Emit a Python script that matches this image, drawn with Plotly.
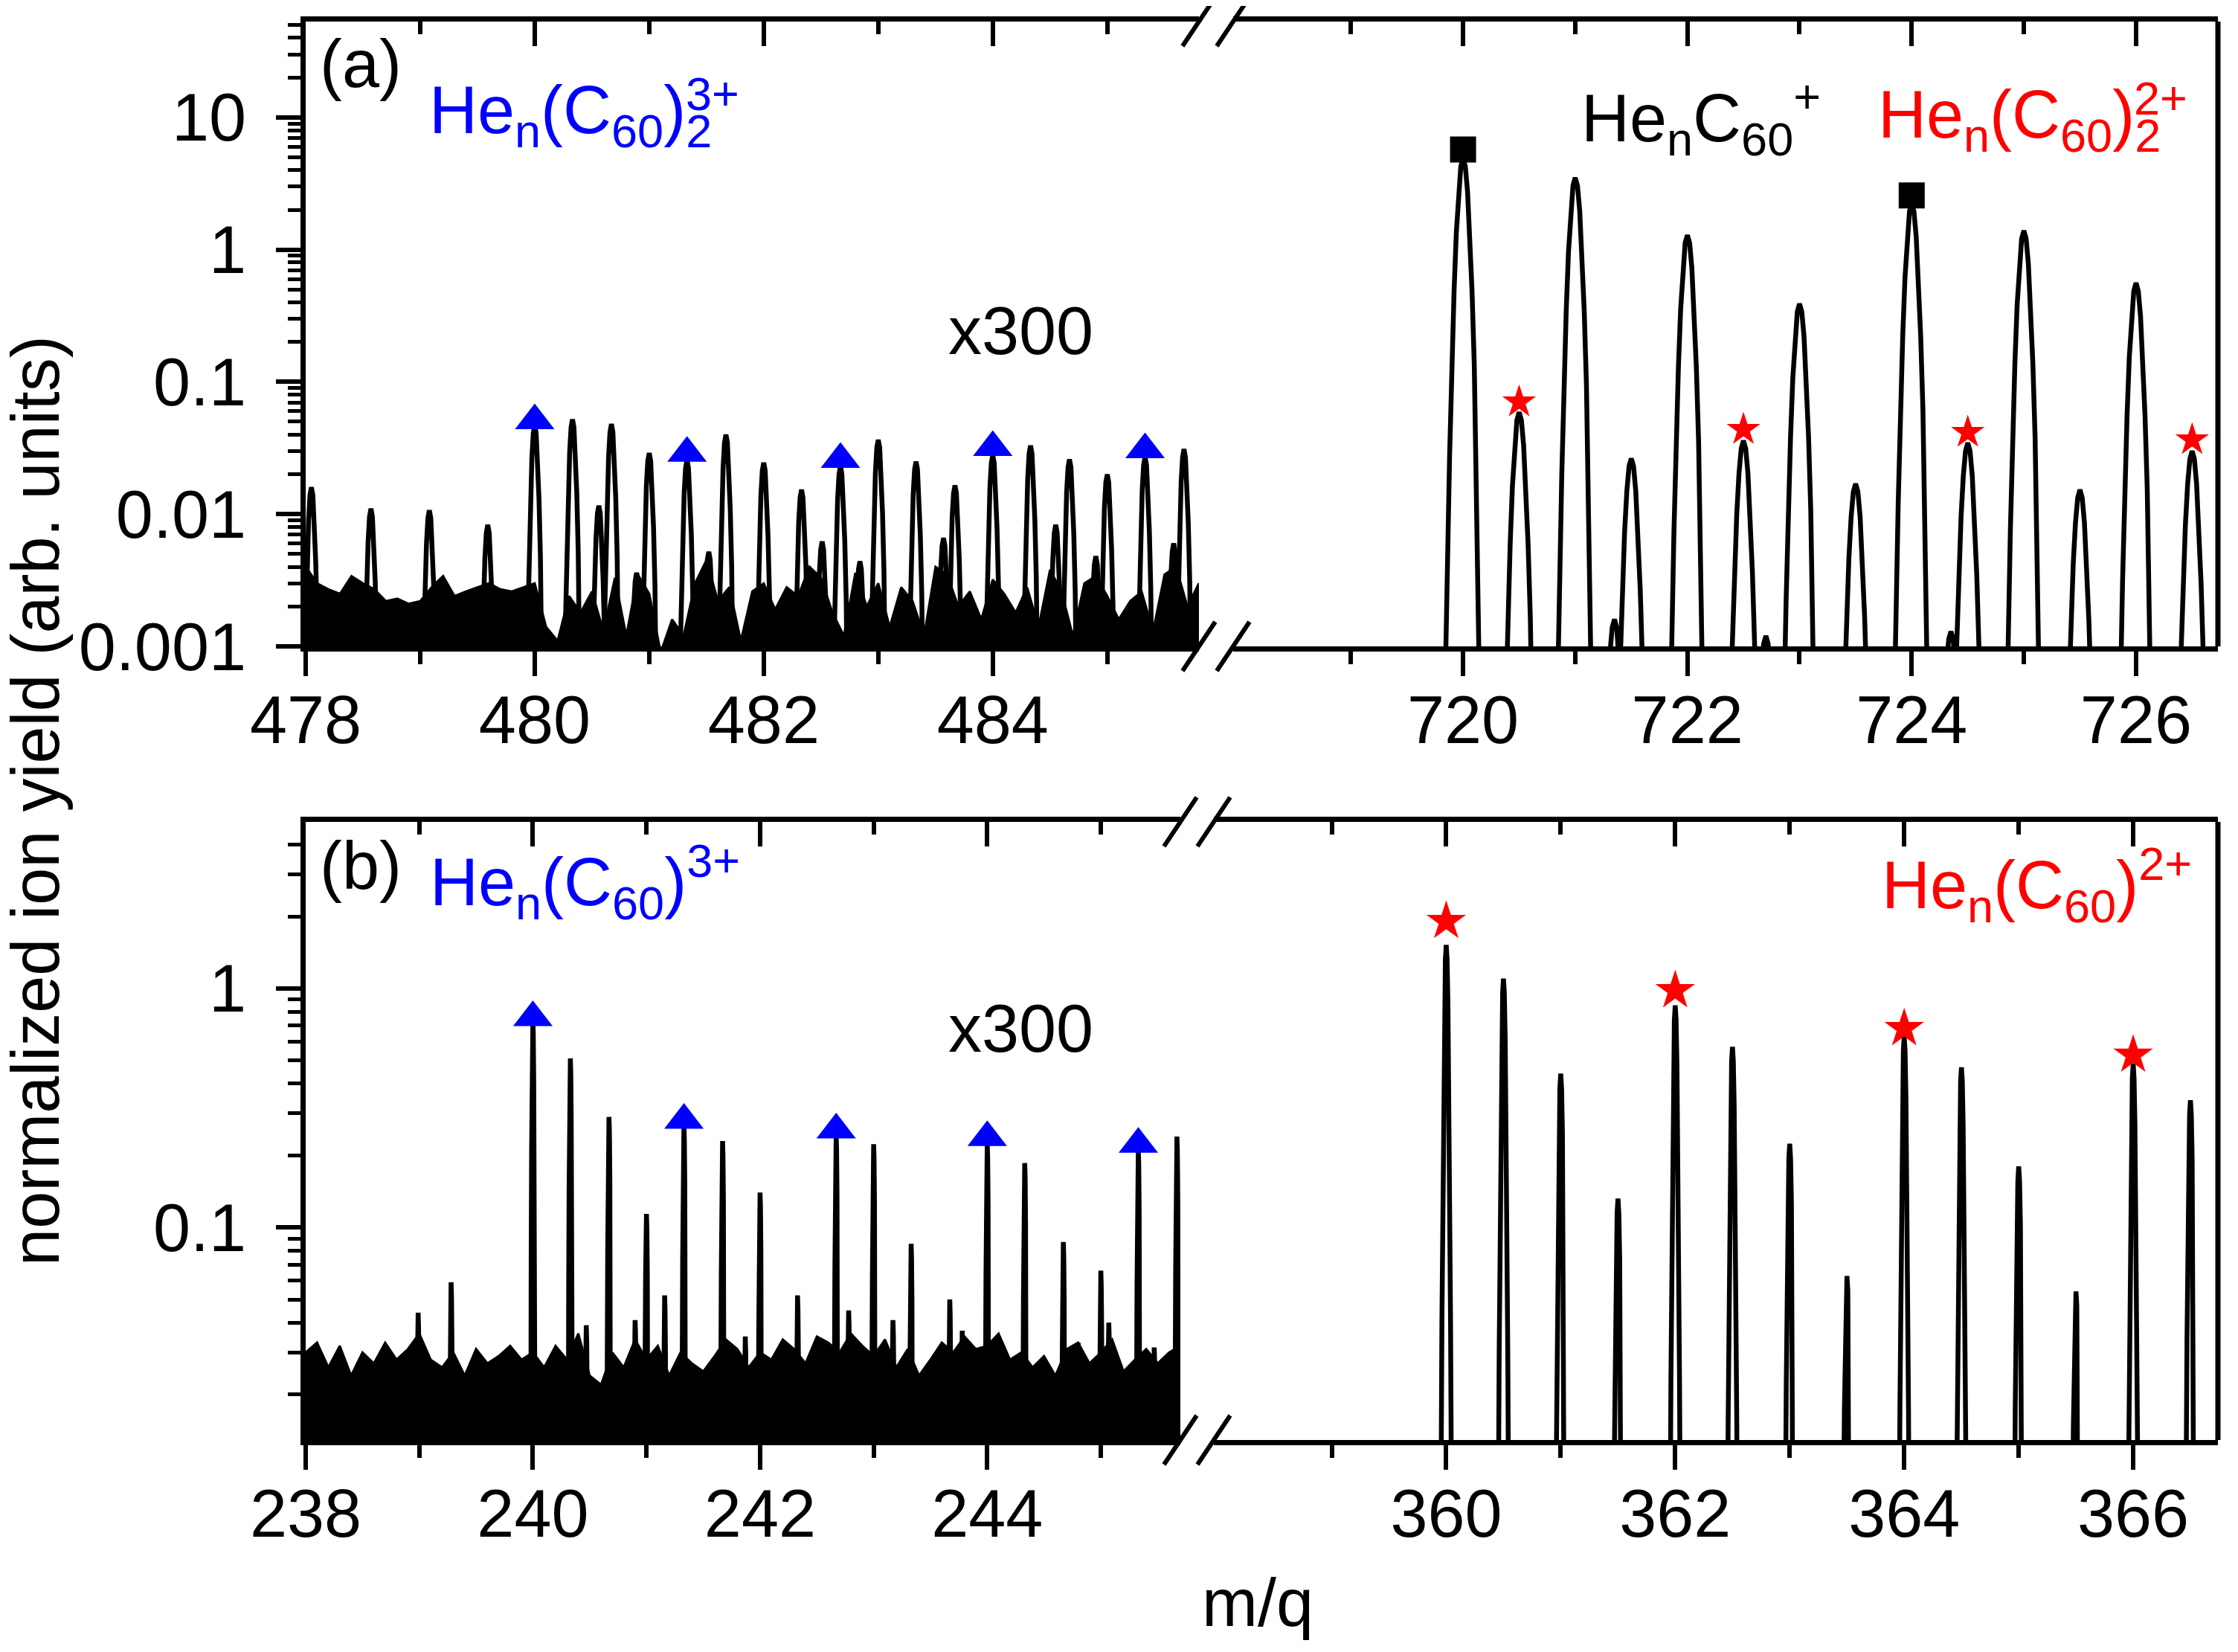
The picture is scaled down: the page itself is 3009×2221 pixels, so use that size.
import plotly.graph_objects as go

# ---------------- data ----------------
# panel (a), left segment (m/q 478 - 485.8), He_n(C60)2 3+ region
A_LEFT_PEAK_MZ = [478.05, 478.57, 479.08, 479.59, 480.0, 480.33, 480.56, 480.67, 480.89,
                  481.0, 481.33, 481.52, 481.67, 482.0, 482.33, 482.51, 482.67, 482.84,
                  483.0, 483.33, 483.57, 483.67, 484.0, 484.33, 484.55, 484.67, 484.9,
                  485.0, 485.33, 485.58, 485.67]
A_LEFT_PEAK_H = [0.016, 0.011, 0.0107, 0.0083, 0.047, 0.052, 0.0116, 0.048, 0.0036,
                 0.029, 0.0257, 0.0052, 0.040, 0.0245, 0.0153, 0.0062, 0.023, 0.0044,
                 0.0365, 0.025, 0.0066, 0.0165, 0.028, 0.033, 0.0083, 0.026, 0.0048,
                 0.020, 0.027, 0.006, 0.031]
A_LEFT_NOISE_MZ = [478.0, 478.1, 478.2, 478.3, 478.4, 478.5, 478.6, 478.7, 478.8, 478.9,
                   479.0, 479.1, 479.2, 479.3, 479.4, 479.5, 479.6, 479.7, 479.8, 479.9,
                   480.0, 480.1, 480.2, 480.3, 480.4, 480.5, 480.6, 480.7, 480.8, 480.9,
                   481.0, 481.1, 481.2, 481.3, 481.4, 481.5, 481.6, 481.7, 481.8, 481.9,
                   482.0, 482.1, 482.2, 482.3, 482.4, 482.5, 482.6, 482.7, 482.8, 482.9,
                   483.0, 483.1, 483.2, 483.3, 483.4, 483.5, 483.6, 483.7, 483.8, 483.9,
                   484.0, 484.1, 484.2, 484.3, 484.4, 484.5, 484.6, 484.7, 484.8, 484.9,
                   485.0, 485.1, 485.2, 485.3, 485.4, 485.5, 485.6, 485.7, 485.8]
A_LEFT_NOISE_H = [0.0040, 0.0030, 0.0027, 0.0025, 0.0034, 0.0030, 0.0027, 0.0022, 0.0023, 0.0021,
                  0.0022, 0.0028, 0.0034, 0.0024, 0.0026, 0.0028, 0.0030, 0.0027, 0.0026, 0.0028,
                  0.0030, 0.0014, 0.0011, 0.0024, 0.0018, 0.0026, 0.0013, 0.0033, 0.0012, 0.0035,
                  0.0025, 0.0009, 0.0016, 0.0012, 0.0030, 0.0045, 0.0022, 0.0028, 0.0011, 0.0026,
                  0.0030, 0.0019, 0.0028, 0.0024, 0.0040, 0.0033, 0.0018, 0.0012, 0.0036, 0.0020,
                  0.0030, 0.0014, 0.0028, 0.0022, 0.0012, 0.0040, 0.0035, 0.0020, 0.0026, 0.0016,
                  0.0032, 0.0025, 0.0018, 0.0028, 0.0014, 0.0038, 0.0026, 0.0012, 0.0030, 0.0034,
                  0.0024, 0.0016, 0.0022, 0.0026, 0.0013, 0.0035, 0.0040, 0.0020, 0.0030]

# panel (a), right segment (m/q 718 - 726.7), He_n C60 + and He_n(C60)2 2+
A_RIGHT_PEAK_MZ = [720.0, 720.5, 721.0, 721.35, 721.5, 722.0, 722.5, 722.7, 723.0,
                   723.5, 724.0, 724.35, 724.5, 725.0, 725.5, 726.0, 726.5]
A_RIGHT_PEAK_H = [4.9, 0.059, 3.5, 0.0016, 0.0264, 1.29, 0.036, 0.0012, 0.39,
                  0.017, 2.23, 0.0013, 0.0346, 1.39, 0.0153, 0.56, 0.030]

# panel (b), left segment (m/q 238 - 245.7)
B_LEFT_PEAK_MZ = [238.99, 239.28, 240.0, 240.33, 240.47, 240.67, 240.9, 241.0, 241.16,
                  241.33, 241.67, 241.87, 242.0, 242.33, 242.67, 242.78, 243.0, 243.17,
                  243.33, 243.67, 243.78, 244.0, 244.33, 244.67, 244.8, 245.0, 245.07,
                  245.33, 245.47, 245.67]
B_LEFT_PEAK_H = [0.044, 0.059, 0.74, 0.51, 0.039, 0.29, 0.041, 0.114, 0.052,
                 0.267, 0.23, 0.035, 0.14, 0.052, 0.244, 0.045, 0.223, 0.041,
                 0.0855, 0.050, 0.037, 0.226, 0.186, 0.087, 0.033, 0.066, 0.040,
                 0.212, 0.0315, 0.24]
B_LEFT_NOISE_MZ = [238.0, 238.1, 238.2, 238.3, 238.4, 238.5, 238.6, 238.7, 238.8, 238.9,
                   239.0, 239.1, 239.2, 239.3, 239.4, 239.5, 239.6, 239.7, 239.8, 239.9,
                   240.0, 240.1, 240.2, 240.3, 240.4, 240.5, 240.6, 240.7, 240.8, 240.9,
                   241.0, 241.1, 241.2, 241.3, 241.4, 241.5, 241.6, 241.7, 241.8, 241.9,
                   242.0, 242.1, 242.2, 242.3, 242.4, 242.5, 242.6, 242.7, 242.8, 242.9,
                   243.0, 243.1, 243.2, 243.3, 243.4, 243.5, 243.6, 243.7, 243.8, 243.9,
                   244.0, 244.1, 244.2, 244.3, 244.4, 244.5, 244.6, 244.7, 244.8, 244.9,
                   245.0, 245.1, 245.2, 245.3, 245.4, 245.5, 245.6, 245.7]
B_LEFT_NOISE_H = [0.030, 0.033, 0.026, 0.032, 0.024, 0.030, 0.027, 0.033, 0.028, 0.031,
                  0.036, 0.028, 0.026, 0.030, 0.024, 0.031, 0.027, 0.029, 0.032, 0.028,
                  0.030, 0.026, 0.032, 0.028, 0.036, 0.024, 0.022, 0.030, 0.026, 0.034,
                  0.028, 0.032, 0.024, 0.030, 0.027, 0.025, 0.029, 0.034, 0.031, 0.026,
                  0.030, 0.028, 0.034, 0.031, 0.027, 0.035, 0.033, 0.030, 0.036, 0.032,
                  0.029, 0.034, 0.026, 0.031, 0.024, 0.028, 0.033, 0.030, 0.035, 0.031,
                  0.032, 0.036, 0.028, 0.030, 0.026, 0.029, 0.024, 0.031, 0.033, 0.027,
                  0.030, 0.034, 0.025, 0.028, 0.031, 0.027, 0.030, 0.032]

# panel (b), right segment (m/q 358 - 366.7), He_n(C60) 2+
B_RIGHT_PEAK_MZ = [360.0, 360.5, 361.0, 361.5, 362.0, 362.5, 363.0, 363.5, 364.0,
                   364.5, 365.0, 365.5, 366.0, 366.5]
B_RIGHT_PEAK_H = [1.52, 1.10, 0.44, 0.132, 0.85, 0.57, 0.224, 0.0627, 0.63,
                  0.468, 0.18, 0.054, 0.485, 0.341]

# peak shape template (offset in peak widths -> drop in decades)
PROFILE_STEP = [0, 0.25, 0.5, 0.75, 1.0, 1.25, 1.5, 2.0, 2.5, 3.0]
PROFILE_DROP = [0, 0.06, 0.25, 0.56, 1.0, 1.56, 2.25, 4.0, 6.25, 9.0]
WIDTH_A_LEFT = 0.05
WIDTH_A_RIGHT = 0.08
WIDTH_B_LEFT = 0.015
WIDTH_B_RIGHT = 0.03

# marker symbols
TRI_A_MZ = [480.0, 481.33, 482.67, 484.0, 485.33]
TRI_A_Y = [0.051, 0.0289, 0.026, 0.032, 0.0308]
SQ_A_MZ = [720.0, 724.0]
SQ_A_Y = [5.73, 2.57]
STAR_A_MZ = [720.5, 722.5, 724.5, 726.5]
STAR_A_Y = [0.0705, 0.0437, 0.0415, 0.0365]
TRI_B_MZ = [240.0, 241.33, 242.67, 244.0, 245.33]
TRI_B_Y = [0.756, 0.281, 0.256, 0.238, 0.223]
STAR_B_MZ = [360.0, 362.0, 364.0, 366.0]
STAR_B_Y = [1.91, 0.98, 0.68, 0.527]

# ticks
A_LEFT_TICKS = [478, 480, 482, 484]
A_LEFT_MINOR = [479, 481, 483, 485]
A_RIGHT_TICKS = [720, 722, 724, 726]
A_RIGHT_MINOR = [719, 721, 723, 725]
B_LEFT_TICKS = [238, 240, 242, 244]
B_LEFT_MINOR = [239, 241, 243, 245]
B_RIGHT_TICKS = [360, 362, 364, 366]
B_RIGHT_MINOR = [359, 361, 363, 365]
A_Y_TICKS = [0.001, 0.01, 0.1, 1, 10]
A_Y_LABELS = ["0.001", "0.01", "0.1", "1", "10"]
B_Y_TICKS = [0.1, 1]
B_Y_LABELS = ["0.1", "1"]

FONT = "Liberation Sans, Arial, sans-serif"
BLUE = "#0000ff"
RED = "#ff0000"
LW = 6.5


def peak_line(centres, heights, width):
    xs, ys = [], []
    for c, h in zip(centres, heights):
        for s, d in zip(PROFILE_STEP[::-1], PROFILE_DROP[::-1]):
            xs.append(c - s * width)
            ys.append(h * 10 ** (-d))
        for s, d in zip(PROFILE_STEP[1:], PROFILE_DROP[1:]):
            xs.append(c + s * width)
            ys.append(h * 10 ** (-d))
        xs.append(None)
        ys.append(None)
    return xs, ys


def noise_band(xs, hs):
    return xs + xs[::-1], hs + [1e-6] * len(xs)


fig = go.Figure()

# noise bands
for nx, nh, xa, ya in [(A_LEFT_NOISE_MZ, A_LEFT_NOISE_H, "x", "y"),
                       (B_LEFT_NOISE_MZ, B_LEFT_NOISE_H, "x5", "y2")]:
    bx, by = noise_band(nx, nh)
    fig.add_trace(go.Scatter(x=bx, y=by, mode="lines", fill="toself", fillcolor="black",
                             line=dict(color="black", width=3), xaxis=xa, yaxis=ya,
                             hoverinfo="skip"))

# spectra
for mz, h, w, xa, ya in [(A_LEFT_PEAK_MZ, A_LEFT_PEAK_H, WIDTH_A_LEFT, "x", "y"),
                         (A_RIGHT_PEAK_MZ, A_RIGHT_PEAK_H, WIDTH_A_RIGHT, "x2", "y"),
                         (B_LEFT_PEAK_MZ, B_LEFT_PEAK_H, WIDTH_B_LEFT, "x5", "y2"),
                         (B_RIGHT_PEAK_MZ, B_RIGHT_PEAK_H, WIDTH_B_RIGHT, "x6", "y2")]:
    px_, py_ = peak_line(mz, h, w)
    fig.add_trace(go.Scatter(x=px_, y=py_, mode="lines", line=dict(color="black", width=LW),
                             xaxis=xa, yaxis=ya, connectgaps=False))

# markers
fig.add_trace(go.Scatter(x=TRI_A_MZ, y=TRI_A_Y, mode="markers", xaxis="x", yaxis="y",
                         marker=dict(symbol="triangle-up", size=46, color=BLUE)))
fig.add_trace(go.Scatter(x=SQ_A_MZ, y=SQ_A_Y, mode="markers", xaxis="x2", yaxis="y",
                         marker=dict(symbol="square", size=35, color="black")))
fig.add_trace(go.Scatter(x=STAR_A_MZ, y=STAR_A_Y, mode="markers", xaxis="x2", yaxis="y",
                         marker=dict(symbol="star", size=34, color=RED)))
fig.add_trace(go.Scatter(x=TRI_B_MZ, y=TRI_B_Y, mode="markers", xaxis="x5", yaxis="y2",
                         marker=dict(symbol="triangle-up", size=46, color=BLUE)))
fig.add_trace(go.Scatter(x=STAR_B_MZ, y=STAR_B_Y, mode="markers", xaxis="x6", yaxis="y2",
                         marker=dict(symbol="star", size=40, color=RED)))

A_LEFT_R = [478.0, 485.8]
A_RIGHT_R = [717.95, 726.73]
B_LEFT_R = [238.0, 245.7]
B_RIGHT_R = [357.97, 366.74]

# invisible anchors so the mirrored top axes get drawn
for xa, ya, rng in [("x3", "y", A_LEFT_R), ("x4", "y", A_RIGHT_R),
                    ("x7", "y2", B_LEFT_R), ("x8", "y2", B_RIGHT_R)]:
    fig.add_trace(go.Scatter(x=[rng[0]], y=[1], mode="markers", xaxis=xa, yaxis=ya,
                             marker=dict(opacity=0, size=1), hoverinfo="skip"))

A_Y = [0.5595, 1.0]
B_Y = [0.0, 0.4358]
A_LEFT_X = [0.0, 0.4671]
A_RIGHT_X = [0.4850, 1.0]
B_LEFT_X = [0.0, 0.4574]
B_RIGHT_X = [0.4749, 1.0]


def bottom_axis(dom, rng, ticks, minor, anchor):
    return dict(domain=dom, range=rng, anchor=anchor, showline=True, linecolor="black",
                linewidth=7, showgrid=False, zeroline=False, ticks="outside", ticklen=33,
                tickwidth=6, tickcolor="black", tickmode="array", tickvals=ticks,
                ticktext=[str(t) for t in ticks], tickfont=dict(size=90, family=FONT, color="black"),
                ticklabelstandoff=-18,
                minor=dict(tickmode="array", tickvals=minor, ticks="outside", ticklen=17,
                           tickwidth=6, tickcolor="black", showgrid=False))


def top_axis(over, rng, ticks, minor, anchor):
    return dict(overlaying=over, side="top", range=rng, anchor=anchor, showline=True,
                linecolor="black", linewidth=7, showgrid=False, zeroline=False,
                ticks="inside", ticklen=33, tickwidth=6, tickcolor="black",
                tickmode="array", tickvals=ticks, showticklabels=False,
                minor=dict(tickmode="array", tickvals=minor, ticks="inside", ticklen=17,
                           tickwidth=6, tickcolor="black", showgrid=False))


def left_axis(dom, rng, ticks, labels, anchor):
    return dict(domain=dom, type="log", range=rng, anchor=anchor, showline=True,
                linecolor="black", linewidth=7, showgrid=False, zeroline=False,
                ticks="outside", ticklen=33, tickwidth=6, tickcolor="black",
                tickmode="array", tickvals=ticks, ticktext=labels,
                tickfont=dict(size=90, family=FONT, color="black"), ticklabelstandoff=22,
                minor=dict(dtick="D1", ticks="outside", ticklen=17, tickwidth=5,
                           tickcolor="black", showgrid=False))


fig.update_layout(
    width=2993, height=2205,
    margin=dict(l=403, r=19, t=21, b=277),
    paper_bgcolor="white", plot_bgcolor="white", showlegend=False,
    font=dict(family=FONT, size=90, color="black"),
    xaxis=bottom_axis(A_LEFT_X, A_LEFT_R, A_LEFT_TICKS, A_LEFT_MINOR, "y"),
    xaxis2=bottom_axis(A_RIGHT_X, A_RIGHT_R, A_RIGHT_TICKS, A_RIGHT_MINOR, "y"),
    xaxis3=top_axis("x", A_LEFT_R, A_LEFT_TICKS, A_LEFT_MINOR, "y"),
    xaxis4=top_axis("x2", A_RIGHT_R, A_RIGHT_TICKS, A_RIGHT_MINOR, "y"),
    xaxis5=bottom_axis(B_LEFT_X, B_LEFT_R, B_LEFT_TICKS, B_LEFT_MINOR, "y2"),
    xaxis6=bottom_axis(B_RIGHT_X, B_RIGHT_R, B_RIGHT_TICKS, B_RIGHT_MINOR, "y2"),
    xaxis7=top_axis("x5", B_LEFT_R, B_LEFT_TICKS, B_LEFT_MINOR, "y2"),
    xaxis8=top_axis("x6", B_RIGHT_R, B_RIGHT_TICKS, B_RIGHT_MINOR, "y2"),
    yaxis=left_axis(A_Y, [-3, 1.725], A_Y_TICKS, A_Y_LABELS, "x"),
    yaxis2=left_axis(B_Y, [-1.889, 0.697], B_Y_TICKS, B_Y_LABELS, "x5"),
)

# right-hand frame lines
for xr, yr in [("x2 domain", "y domain"), ("x6 domain", "y2 domain")]:
    fig.add_shape(type="line", xref=xr, yref=yr, x0=1, x1=1, y0=0, y1=1,
                  line=dict(color="black", width=7))

# axis-break marks
DX = 22 / 2571
DY = 33 / 1907
for seg_l, seg_r, dom in [(A_LEFT_X, A_RIGHT_X, A_Y), (B_LEFT_X, B_RIGHT_X, B_Y)]:
    for xc in (seg_l[1], seg_r[0]):
        for yc in dom:
            fig.add_shape(type="line", xref="paper", yref="paper",
                          x0=xc - DX, x1=xc + DX, y0=yc - DY, y1=yc + DY,
                          line=dict(color="black", width=6))


def note(text, x, y, color="black", size=90, xanchor="left"):
    fig.add_annotation(text=text, x=x, y=y, xref="paper", yref="paper", showarrow=False,
                       xanchor=xanchor, yanchor="middle",
                       font=dict(size=size, color=color, family=FONT))


note("(a)", 0.0066, 0.970)
note("He<sub>n</sub>(C<sub>60</sub>)<sub>2</sub>", 0.0638, 0.934, BLUE)
note("3+", 0.1979, 0.9489, BLUE, size=63)
note("x300", 0.3738, 0.7819, xanchor="center")
note("He<sub>n</sub>C<sub>60</sub><sup>+</sup>", 0.6664, 0.932)
note("He<sub>n</sub>(C<sub>60</sub>)<sub>2</sub>", 0.8216, 0.931, RED)
note("2+", 0.9554, 0.9459, RED, size=63)
note("(b)", 0.0066, 0.405)
note("He<sub>n</sub>(C<sub>60</sub>)<sup>3+</sup>", 0.0640, 0.3938, BLUE)
note("x300", 0.3738, 0.29, xanchor="center")
note("He<sub>n</sub>(C<sub>60</sub>)<sup>2+</sup>", 0.8236, 0.3912, RED)
note("m/q", 0.498, -0.115, xanchor="center")
fig.add_annotation(text="normalized ion yield (arb. units)", x=-0.1412, y=0.451,
                   xref="paper", yref="paper", showarrow=False, textangle=-90,
                   xanchor="center", yanchor="middle",
                   font=dict(size=90, color="black", family=FONT))

fig.write_html("out.html")
